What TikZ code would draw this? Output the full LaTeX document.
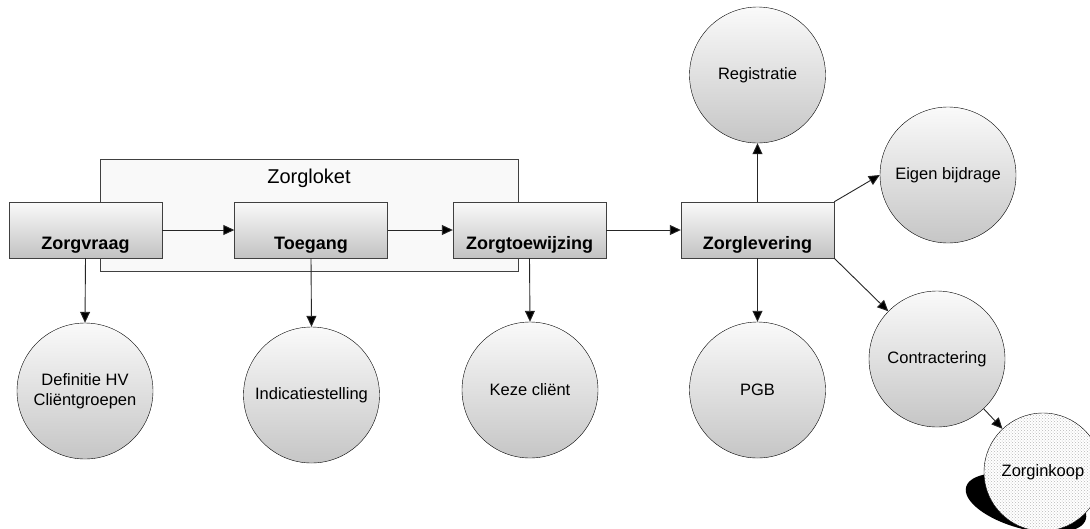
\documentclass[tikz,border=0pt]{standalone}
\usepackage{fontspec}
\setmainfont{Liberation Sans}
\usetikzlibrary{arrows.meta,patterns}
\begin{document}
\begin{tikzpicture}[x=1pt,y=-1pt,
  box/.style={draw=black!75, top color=gray!4, bottom color=gray!48, minimum width=153pt,
    inner xsep=0pt, inner ysep=0pt, text height=47pt, text depth=9pt,
    font=\fontsize{18}{20}\selectfont\bfseries},
  bubble/.style={circle, draw, top color=gray!4, bottom color=gray!45, minimum size=136pt,
    inner sep=0pt, align=center, font=\fontsize{16.5}{20}\selectfont},
  arr/.style={black!85, line width=0.9pt, -{Triangle[length=11pt,width=10pt,fill=black]}}]
\useasboundingbox (0,0) rectangle (1090,528);
\draw[black!75, fill=gray!5] (100,159) rectangle (518,271);
\node[font=\fontsize{20}{22}\selectfont] (zlk) at (309,178) {Zorgloket};
% processtappen
\node[box] (zv) at (85.5,230) {Zorgvraag};
\node[box] (tg) at (311,230) {Toegang};
\node[box] (tw) at (529.5,230) {Zorgtoewijzing};
\node[box] (zl) at (757.5,230) {Zorglevering};
% onderdelen
\node[bubble] (dh) at (85,391) {Definitie HV\\Cliëntgroepen};
\node[bubble] (ind) at (311.5,395) {Indicatiestelling};
\node[bubble] (kc) at (530,390) {Keze cliënt};
\node[bubble] (pgb) at (757.5,390) {PGB};
\node[bubble] (reg) at (757.5,75) {Registratie};
\node[bubble] (eb) at (948,175) {Eigen bijdrage};
\node[bubble] (ct) at (937,359) {Contractering};
\fill[rotate around={-15:(1026,503)}] (1026,503) ellipse [x radius=62pt, y radius=26pt];
\node[circle, draw, preaction={fill=white}, pattern=crosshatch dots, pattern color=gray!55,
  minimum size=118pt, inner sep=0pt, font=\fontsize{16.5}{20}\selectfont] (zk) at (1043,472) {Zorginkoop};
% pijlen
\draw[arr] (zv.east) -- (tg.west);
\draw[arr] (tg.east) -- (tw.west);
\draw[arr] (tw.east) -- (zl.west);
\draw[arr] (zv.south) -- (dh.north);
\draw[arr] (tg.south) -- (ind.north);
\draw[arr] (tw.south) -- (kc.north);
\draw[arr] (zl.south) -- (pgb.north);
\draw[arr] (zl.north) -- (reg.south);
\draw[arr] (zl.north east) -- (eb.west);
\draw[arr] (zl.south east) -- (ct);
\draw[arr] (ct) -- (zk);
\end{tikzpicture}
\end{document}
